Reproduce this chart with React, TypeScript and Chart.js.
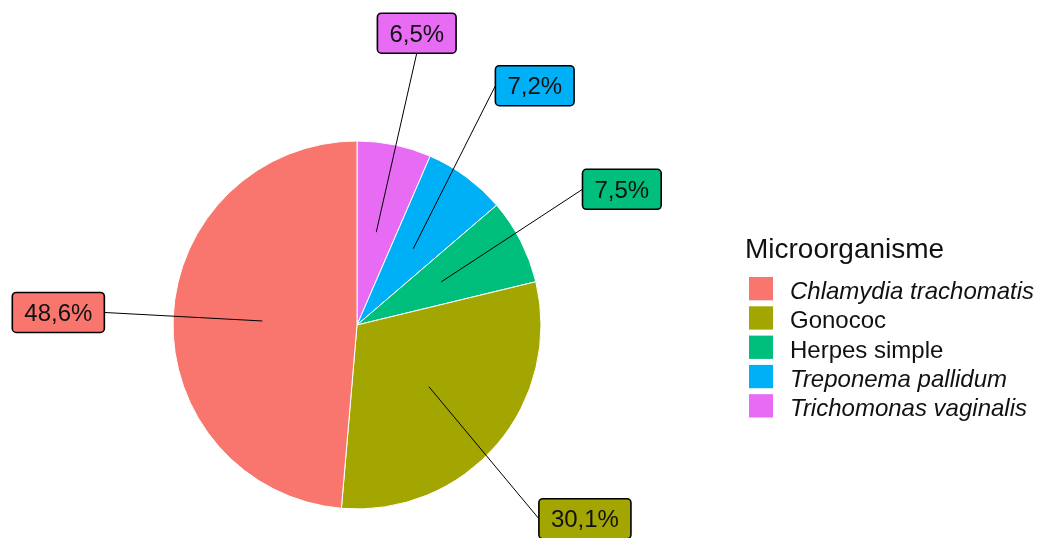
import React, { useEffect, useRef } from "react";
import { Chart, registerables } from "chart.js";

Chart.register(...registerables);

// ---- data (slice order: clockwise from 12 o'clock) ----
const categories = [
  "Trichomonas vaginalis",
  "Treponema pallidum",
  "Herpes simple",
  "Gonococ",
  "Chlamydia trachomatis",
];
const shares = [6.5, 7.2, 7.5, 30.1, 48.6];
const shareLabels = ["6,5%", "7,2%", "7,5%", "30,1%", "48,6%"];
const sliceColors = ["#E76BF3", "#00B0F6", "#00BF7D", "#A3A500", "#F8766D"];
const italicNames = ["Chlamydia trachomatis", "Treponema pallidum", "Trichomonas vaginalis"];
const legendOrder = [
  "Chlamydia trachomatis",
  "Gonococ",
  "Herpes simple",
  "Treponema pallidum",
  "Trichomonas vaginalis",
];
const legendTitle = "Microorganisme";

// ---- label placement (repelled offsets from the slice anchor, px) ----
const labelOffsets = [
  [40.5, -199],
  [121.5, -163],
  [180.5, -92.5],
  [156, 132],
  [-204, -8.5],
];

const FONT = "'Liberation Sans', Arial, sans-serif";

function labelPlugin() {
  return {
    id: "repelLabels",
    afterDatasetsDraw(chart: any) {
      const ctx: CanvasRenderingContext2D = chart.ctx;
      const meta = chart.getDatasetMeta(0);
      ctx.save();
      const fs = 24;
      ctx.font = `${fs}px ${FONT}`;
      const boxes: any[] = [];
      meta.data.forEach((arc: any, i: number) => {
        const { x, y, startAngle, endAngle, outerRadius } = arc.getProps(
          ["x", "y", "startAngle", "endAngle", "outerRadius"],
          true
        );
        const mid = (startAngle + endAngle) / 2;
        const r = outerRadius * 0.515;
        const ax = x + Math.cos(mid) * r;
        const ay = y + Math.sin(mid) * r;
        const tw = ctx.measureText(shareLabels[i]).width;
        const w = tw + 24;
        const h = 40;
        const cx = ax + labelOffsets[i][0];
        const cy = ay + labelOffsets[i][1];
        boxes.push({ ax, ay, cx, cy, w, h, i });
      });
      // segments
      ctx.strokeStyle = "#000";
      ctx.lineWidth = 1;
      boxes.forEach((b) => {
        const cands = [
          [b.cx - b.w / 2, b.cy],
          [b.cx + b.w / 2, b.cy],
          [b.cx, b.cy - b.h / 2],
          [b.cx, b.cy + b.h / 2],
        ];
        let best = cands[0];
        let bd = Infinity;
        cands.forEach((c) => {
          const d = Math.hypot(c[0] - b.ax, c[1] - b.ay);
          if (d < bd) {
            bd = d;
            best = c;
          }
        });
        ctx.beginPath();
        ctx.moveTo(b.ax, b.ay);
        ctx.lineTo(best[0], best[1]);
        ctx.stroke();
      });
      // boxes
      boxes.forEach((b) => {
        const x0 = b.cx - b.w / 2;
        const y0 = b.cy - b.h / 2;
        ctx.beginPath();
        if ((ctx as any).roundRect) (ctx as any).roundRect(x0, y0, b.w, b.h, 4);
        else ctx.rect(x0, y0, b.w, b.h);
        ctx.fillStyle = sliceColors[b.i];
        ctx.fill();
        ctx.lineWidth = 1.6;
        ctx.strokeStyle = "#000";
        ctx.stroke();
        ctx.fillStyle = "#111";
        ctx.textAlign = "center";
        ctx.textBaseline = "alphabetic";
        ctx.fillText(shareLabels[b.i], b.cx, b.cy + fs * 0.358);
      });

      // legend
      ctx.textAlign = "left";
      ctx.textBaseline = "alphabetic";
      ctx.fillStyle = "#111";
      ctx.font = `28px ${FONT}`;
      ctx.fillText(legendTitle, 745, 258);
      const keyX = 749;
      const keyY0 = 277;
      const pitch = 29.3;
      legendOrder.forEach((name, k) => {
        const idx = categories.indexOf(name);
        const ky = keyY0 + k * pitch;
        ctx.fillStyle = sliceColors[idx];
        ctx.fillRect(keyX, ky, 24, 23.3);
        ctx.fillStyle = "#111";
        ctx.font = `${italicNames.includes(name) ? "italic " : ""}24px ${FONT}`;
        ctx.fillText(name, 790, ky + 11.6 + 10.5);
      });
      ctx.restore();
    },
  };
}

export default function App() {
  const ref = useRef<HTMLCanvasElement | null>(null);
  useEffect(() => {
    if (!ref.current) return;
    const chart = new Chart(ref.current, {
      type: "doughnut",
      data: {
        labels: categories,
        datasets: [
          {
            data: shares,
            backgroundColor: sliceColors,
            borderColor: "#ffffff",
            borderWidth: 1,
          },
        ],
      },
      options: {
        responsive: false,
        animation: false,
        devicePixelRatio: 1,
        cutout: 0,
        rotation: 0,
        radius: 184,
        layout: { padding: { left: 173, right: 500, top: 141, bottom: 29 } },
        plugins: {
          legend: { display: false },
          tooltip: { enabled: false },
          title: { display: false },
        },
      } as any,
      plugins: [labelPlugin()],
    });
    return () => chart.destroy();
  }, []);
  return (
    <div
      style={{
        position: "fixed",
        left: 0,
        top: 0,
        width: 1041,
        height: 538,
        background: "#fff",
      }}
    >
      <canvas ref={ref} width={1041} height={538} />
    </div>
  );
}
